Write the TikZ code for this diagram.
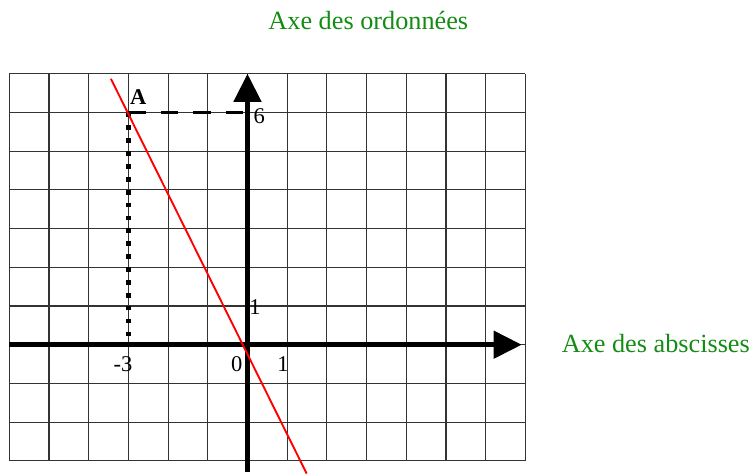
\documentclass[tikz,border=0pt]{standalone}
\usepackage{fontspec}
\setmainfont{Liberation Serif}
\definecolor{axeGreen}{RGB}{20,140,20}
\usetikzlibrary{arrows.meta,positioning}

\begin{document}
\begin{tikzpicture}[
  x=1.191cm, y=1.161cm,
  gridline/.style={line width=1pt, black!80},
  axis/.style={line width=4pt, -{Triangle[length=0.84cm,width=0.81cm]}},
  guide/.style={line width=2.1pt, dash pattern=on 14.9pt off 12.8pt},
  dotguide/.style={line width=4pt, dash pattern=on 4pt off 7pt},
  lbl/.style={anchor=base, inner sep=0pt, font=\fontsize{19.2}{22}\selectfont},
  axetitle/.style={anchor=base, inner sep=0pt, text=axeGreen, font=\fontsize{22.4}{26}\selectfont}
]
  \useasboundingbox (-6.234,-3.367) rectangle (12.758,8.907);

  % quadrillage
  \draw[gridline, step={(1,1)}] (-6,-3) grid (7,7);

  \coordinate (O) at (0,0);
  \coordinate (A) at (-3,6);
  \coordinate (Ay) at (0,6);
  \coordinate (Ax) at (-3,0);

  % pointilles vers les axes
  \draw[guide] (A) -- (Ay);
  \draw[dotguide] (A) -- (Ax);

  % axes
  \coordinate (xstart) at (-6,0);
  \coordinate (xend) at (6.907,0);
  \coordinate (ystart) at (0,-3.28);
  \coordinate (yend) at (0,7);
  \draw[axis] (xstart) -- (xend);
  \draw[axis] (ystart) -- (yend);

  % droite
  \coordinate (dstart) at (-3.44,6.87);
  \coordinate (dend) at (1.49,-3.33);
  \draw[red, line width=1.6pt] (dstart) -- (dend);

  % graduations
  \node[lbl] (labA) at (-2.751,6.212) {\textbf{A}};
  \node[lbl] (six) at (0.297,5.703) {6};
  \node[lbl] (oneY) at (0.189,0.793) {1};
  \node[lbl] (minusThree) at (-3.136,-0.698) {-3};
  \node[lbl] (zero) at (-0.272,-0.698) {0};
  \node[lbl] (oneX) at (0.894,-0.698) {1};

  % titres des axes
  \node[axetitle] (ordTitle) at (3.043,8.132) {Axe des ordonnées};
  \node[axetitle] (absTitle) at (10.285,-0.196) {Axe des abscisses};
\end{tikzpicture}
\end{document}
